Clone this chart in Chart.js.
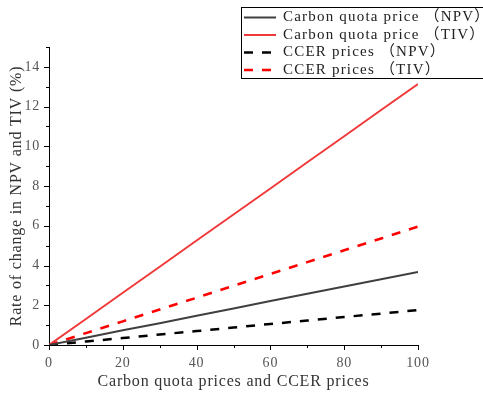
<!DOCTYPE html>
<html>
<head>
<meta charset="utf-8">
<script src="https://cdn.jsdelivr.net/npm/chart.js@4"></script>
<style>
  html, body { margin: 0; padding: 0; background: #fff; }
  #wrap { width: 483px; height: 394px; }
</style>
</head>
<body>
<div id="wrap"><canvas id="c" width="483" height="394"></canvas></div>
<script>
// Prices (x) and the resulting rate of change (%) for each series
const prices = [0, 10, 20, 30, 40, 50, 60, 70, 80, 90, 100];
const quotaNPV = [0, 0.37, 0.74, 1.10, 1.47, 1.84, 2.21, 2.58, 2.94, 3.31, 3.68];
const quotaTIV = [0, 1.31, 2.63, 3.94, 5.26, 6.57, 7.88, 9.20, 10.51, 11.83, 13.14];
const ccerNPV = [0, 0.18, 0.35, 0.53, 0.70, 0.88, 1.06, 1.23, 1.41, 1.58, 1.76];
const ccerTIV = [0, 0.60, 1.19, 1.79, 2.38, 2.98, 3.58, 4.17, 4.77, 5.36, 5.96];

const seriesLabels = ['Carbon quota price （NPV）', 'Carbon quota price （TIV）', 'CCER prices （NPV）', 'CCER prices （TIV）'];
const xTicks = [0, 20, 40, 60, 80, 100];
const yTicks = [0, 2, 4, 6, 8, 10, 12, 14];

const FONT = '"Liberation Serif", "Noto Sans CJK SC", serif';

function pts(ys) { return prices.map((x, i) => ({ x: x, y: ys[i] })); }

// Slightly open letter spacing for all chart text
const textSpacing = {
  id: 'textSpacing',
  beforeDraw(chart) { chart.ctx.letterSpacing = '0.8px'; },
  afterDraw(chart) { chart.ctx.letterSpacing = '0px'; }
};

// Outward major/minor tick marks on the bottom and left axes
const tickMarks = {
  id: 'tickMarks',
  afterDraw(chart) {
    const ctx = chart.ctx, xs = chart.scales.x, ys = chart.scales.y;
    const area = chart.chartArea;
    ctx.save();
    ctx.strokeStyle = '#000';
    ctx.lineWidth = 1;
    ctx.beginPath();
    for (let v = 0; v <= 100; v += 10) {
      const px = Math.round(xs.getPixelForValue(v)) + 0.5;
      const len = v % 20 === 0 ? 5 : 3;
      ctx.moveTo(px, area.bottom); ctx.lineTo(px, area.bottom + len);
    }
    for (let v = 0; v <= 15; v += 1) {
      const py = Math.round(ys.getPixelForValue(v)) + 0.5;
      const len = v % 2 === 0 ? 5 : 3;
      ctx.moveTo(area.left, py); ctx.lineTo(area.left - len, py);
    }
    ctx.stroke();
    ctx.restore();
  }
};

// Boxed legend in the upper right corner
const boxLegend = {
  id: 'boxLegend',
  afterDraw(chart) {
    const ctx = chart.ctx;
    const x0 = 241.5, y0 = 7.5, w = 250, h = 71;
    ctx.save();
    ctx.fillStyle = '#fff';
    ctx.fillRect(x0, y0, w, h);
    ctx.strokeStyle = '#000';
    ctx.lineWidth = 1;
    ctx.strokeRect(x0, y0, w, h);
    ctx.font = '15px ' + FONT;
    ctx.letterSpacing = '1.2px';
    ctx.textBaseline = 'middle';
    chart.data.datasets.forEach((ds, i) => {
      const y = 17.5 + i * 17.5;
      ctx.strokeStyle = ds.borderColor;
      ctx.lineWidth = ds.borderWidth;
      ctx.setLineDash(ds.borderDash || []);
      ctx.beginPath();
      ctx.moveTo(244, y); ctx.lineTo(276, y);
      ctx.stroke();
      ctx.setLineDash([]);
      ctx.fillStyle = '#222';
      ctx.fillText(ds.label, 283, y);
    });
    ctx.restore();
  }
};

new Chart(document.getElementById('c'), {
  type: 'line',
  data: {
    datasets: [
      { label: seriesLabels[0], data: pts(quotaNPV), borderColor: '#404040', borderWidth: 2 },
      { label: seriesLabels[1], data: pts(quotaTIV), borderColor: '#f03a3a', borderWidth: 2 },
      { label: seriesLabels[2], data: pts(ccerNPV), borderColor: '#000000', borderWidth: 2.5, borderDash: [9, 9] },
      { label: seriesLabels[3], data: pts(ccerTIV), borderColor: '#ff0000', borderWidth: 2.5, borderDash: [9, 9] }
    ]
  },
  options: {
    responsive: false,
    animation: false,
    devicePixelRatio: 1,
    layout: { padding: { top: 47, right: 65, left: 0, bottom: 0 } },
    elements: { point: { radius: 0 }, line: { tension: 0 } },
    plugins: { legend: { display: false }, tooltip: { enabled: false } },
    scales: {
      x: {
        type: 'linear', min: 0, max: 100,
        afterBuildTicks(s) { s.ticks = xTicks.map(v => ({ value: v })); },
        afterFit(s) { s.height = 49; },
        grid: { display: false, drawTicks: false },
        border: { display: true, color: '#000', width: 1 },
        ticks: { color: '#555', font: { family: FONT, size: 14 }, padding: 10, maxRotation: 0 },
        title: { display: true, text: 'Carbon quota prices and CCER prices', color: '#333', font: { family: FONT, size: 16 }, padding: { top: 0, bottom: 3 } }
      },
      y: {
        type: 'linear', min: 0, max: 15,
        afterBuildTicks(s) { s.ticks = yTicks.map(v => ({ value: v })); },
        afterFit(s) { s.width = 49; },
        grid: { display: false, drawTicks: false },
        border: { display: true, color: '#000', width: 1 },
        ticks: { color: '#555', font: { family: FONT, size: 14 }, padding: 9 },
        title: { display: true, text: 'Rate of change in NPV and TIV (%)', color: '#333', font: { family: FONT, size: 16 }, padding: { bottom: 0, top: 7 } }
      }
    }
  },
  plugins: [textSpacing, tickMarks, boxLegend]
});
</script>
</body>
</html>
